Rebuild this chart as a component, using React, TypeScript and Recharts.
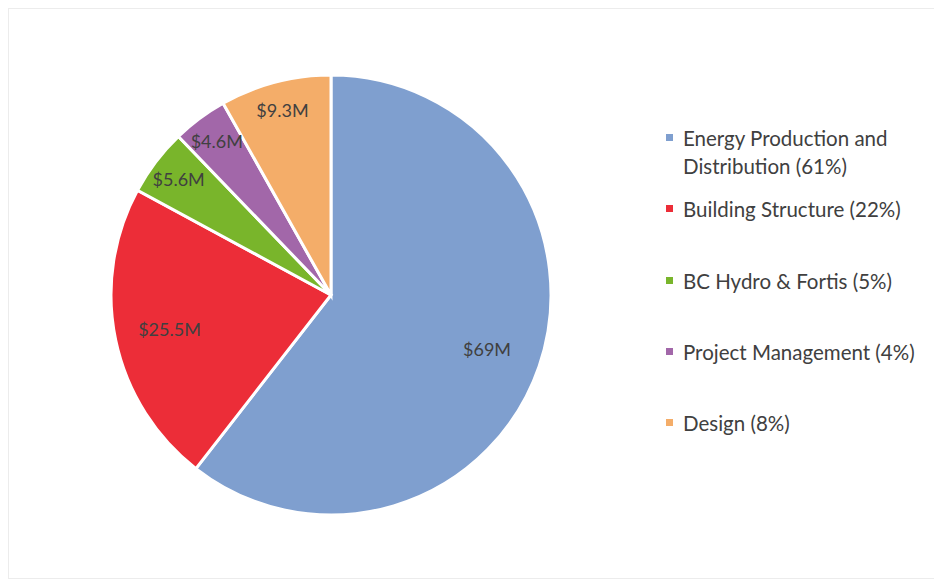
import { Cell, Legend, Pie, PieChart } from 'recharts';

// Project cost breakdown, $M. Slices run clockwise from 12 o'clock.
const categories = [
  'Energy Production and Distribution',
  'Building Structure',
  'BC Hydro & Fortis',
  'Project Management',
  'Design',
];
const values = [69, 25.5, 5.6, 4.6, 9.3];
const valueLabels = ['$69M', '$25.5M', '$5.6M', '$4.6M', '$9.3M'];
const shareLabels = ['61%', '22%', '5%', '4%', '8%'];

const COLORS = ['#7f9fcf', '#ec2d38', '#79b52b', '#a267a9', '#f4ad69'];
const FONT = 'Lato, "Open Sans", sans-serif';
const RAD = Math.PI / 180;

const data = categories.map((name, i) => ({
  name,
  value: values[i],
  tag: valueLabels[i],
  legend: `${name} (${shareLabels[i]})`,
}));

const renderLabel = (p: any) => {
  const { cx, cy, midAngle, outerRadius, percent, index } = p;
  // big slices get the label pulled inward, thin ones sit near the rim
  const r = outerRadius * (percent > 0.15 ? 0.75 : 0.87);
  const x = cx + r * Math.cos(-midAngle * RAD);
  const y = cy + r * Math.sin(-midAngle * RAD);
  return (
    <text
      x={x}
      y={y}
      textAnchor="middle"
      dominantBaseline="central"
      fill="#404040"
      fontSize={18}
      fontFamily={FONT}
    >
      {data[index].tag}
    </text>
  );
};

const renderLegend = () => (
  <div style={{ fontFamily: FONT, fontSize: 20.5, lineHeight: '28px', color: '#404040' }}>
    {data.map((d, i) => (
      <div key={d.name} style={{ height: 71.25, display: 'flex', alignItems: 'flex-start' }}>
        <span
          style={{
            width: 7,
            height: 7,
            background: COLORS[i],
            marginTop: 10,
            marginRight: 10,
            flex: 'none',
          }}
        />
        <span style={{ width: 235 }}>{d.legend}</span>
      </div>
    ))}
  </div>
);

export default function App() {
  return (
    <div
      style={{
        width: 925,
        height: 569,
        borderTop: '1px solid #ececec',
        borderLeft: '1px solid #ececec',
        borderBottom: '1px solid #ececec',
        background: '#fff',
      }}
    >
      <PieChart width={925} height={569} margin={{ top: 0, right: 0, bottom: 0, left: 0 }}>
        <Pie
          data={data}
          dataKey="value"
          nameKey="name"
          cx={322}
          cy={286}
          outerRadius={220}
          startAngle={90}
          endAngle={-270}
          stroke="#ffffff"
          strokeWidth={3}
          label={renderLabel}
          labelLine={false}
          isAnimationActive={false}
        >
          {data.map((d, i) => (
            <Cell key={d.name} fill={COLORS[i]} />
          ))}
        </Pie>
        <Legend
          content={renderLegend}
          wrapperStyle={{ position: 'absolute', left: 657, top: 115, width: 265 }}
        />
      </PieChart>
    </div>
  );
}
